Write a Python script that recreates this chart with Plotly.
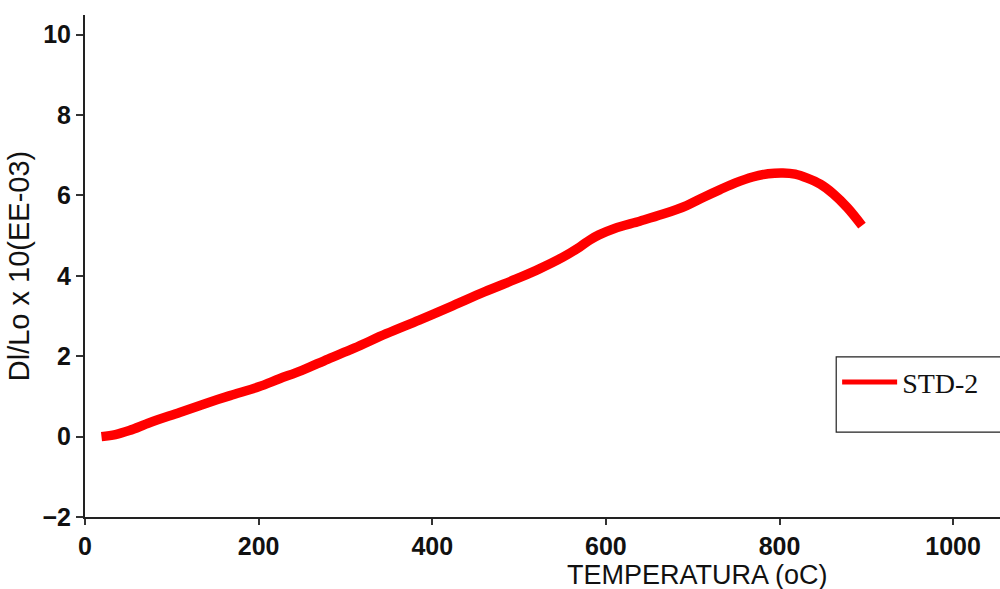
import plotly.graph_objects as go

temperature = [19, 35, 51, 75, 109, 140, 167, 200, 224, 250, 280, 310, 347, 385, 424, 460, 501, 524, 550, 570, 582, 592, 610, 639, 665, 693, 712, 731, 750, 769, 787, 804, 818, 832, 847, 862, 878, 895]
dl_lo = [0.0, 0.05, 0.15, 0.35, 0.6, 0.83, 1.02, 1.24, 1.44, 1.65, 1.93, 2.2, 2.56, 2.9, 3.26, 3.6, 3.96, 4.18, 4.46, 4.72, 4.9, 5.02, 5.18, 5.36, 5.53, 5.75, 5.95, 6.14, 6.32, 6.46, 6.54, 6.56, 6.53, 6.43, 6.28, 6.04, 5.7, 5.25]
series_name = "STD-2"
x_ticks = [0, 200, 400, 600, 800, 1000]
y_ticks = [-2, 0, 2, 4, 6, 8, 10]

fig = go.Figure()
fig.add_trace(go.Scatter(x=temperature, y=dl_lo, mode="lines",
                         line=dict(color="#ff0000", width=9.5, shape="spline", smoothing=1.0),
                         showlegend=False))
fig.add_trace(go.Scatter(x=[None], y=[None], mode="lines", name=series_name,
                         line=dict(color="#ff0000", width=5)))

tick_font = dict(family="Liberation Sans, Arial", size=25, color="#111", weight="bold")
fig.update_layout(
    width=1000, height=589,
    margin=dict(l=85, r=0, t=15, b=72),
    paper_bgcolor="white", plot_bgcolor="white",
    xaxis=dict(range=[0, 1054], tickvals=x_ticks, showgrid=False, zeroline=False,
               showline=True, linecolor="#222", linewidth=2,
               ticks="outside", ticklen=6, tickcolor="#333", tickwidth=1.5,
               tickfont=tick_font),
    yaxis=dict(range=[-2, 10.49], tickvals=y_ticks, showgrid=False, zeroline=False,
               showline=True, linecolor="#222", linewidth=2,
               ticks="outside", ticklen=7, tickcolor="#333", tickwidth=1.5,
               tickfont=tick_font,
               title=dict(text="Dl/Lo x 10(EE-03)", standoff=4,
                          font=dict(family="Liberation Sans, Arial", size=29, color="#111"))),
    legend=dict(x=0.822, y=0.318, xanchor="left", yanchor="top",
                bgcolor="rgba(0,0,0,0)", borderwidth=0,
                font=dict(family="Liberation Serif, Times New Roman", size=28, color="#111"),
                itemwidth=55),
    annotations=[dict(text="TEMPERATURA (oC)", xref="paper", yref="paper",
                      x=0.669, y=-0.115, xanchor="center", yanchor="middle",
                      showarrow=False,
                      font=dict(family="Liberation Sans, Arial", size=27, color="#111"))],
    shapes=[dict(type="rect", xref="paper", yref="paper",
                 x0=0.821, x1=1.05, y0=0.169, y1=0.319,
                 line=dict(color="#222", width=1.2), fillcolor="rgba(0,0,0,0)")],
)

fig.write_html("out.html")
